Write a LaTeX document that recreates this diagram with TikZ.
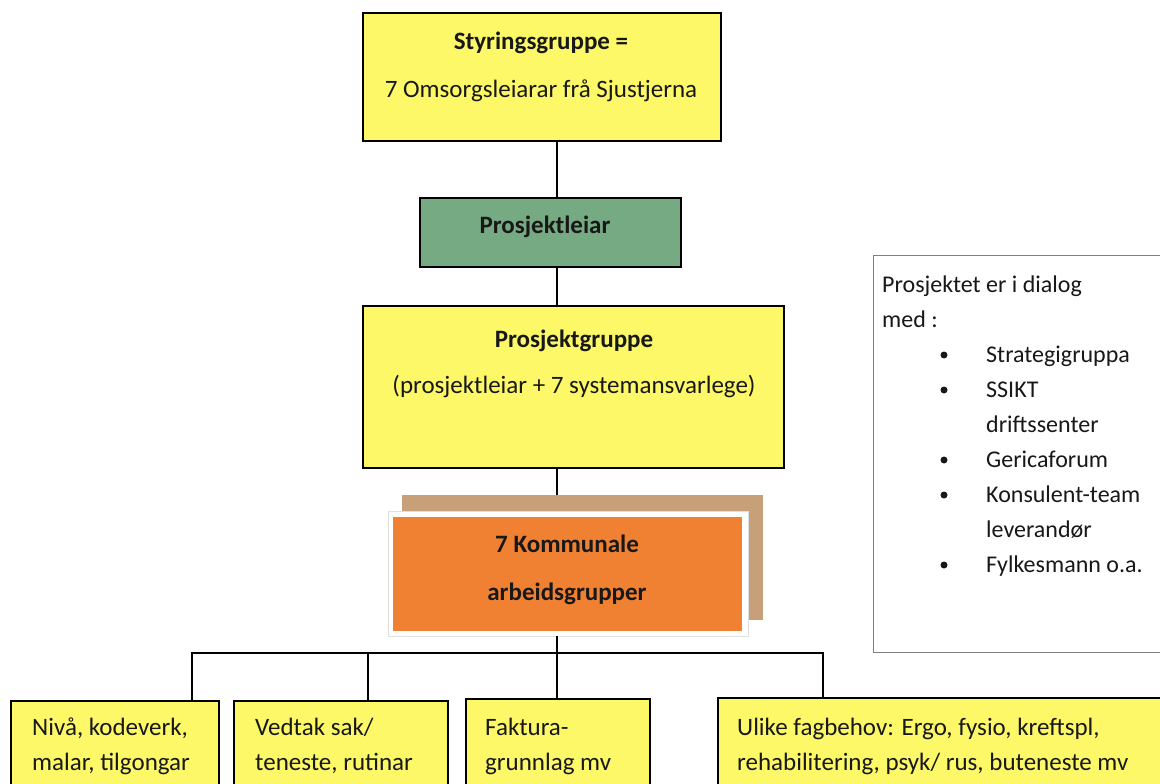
\documentclass[tikz,border=0pt]{standalone}
\usepackage{fontspec}
\setmainfont{Carlito}

\definecolor{boxyellow}{RGB}{252,248,104}
\definecolor{leiargreen}{RGB}{118,170,130}
\definecolor{komorange}{RGB}{240,128,50}
\definecolor{komshadow}{RGB}{199,160,122}
\definecolor{inkdark}{RGB}{24,24,24}

\begin{document}
\begin{tikzpicture}[x=1pt,y=-1pt]
	\tikzstyle{box_yellow} = [rectangle, draw=black, line width=2.2pt, fill=boxyellow, anchor=north west, inner sep=0pt]
	\tikzstyle{box_green} = [box_yellow, fill=leiargreen]
	\tikzstyle{box_side} = [rectangle, draw=gray, line width=1.3pt, fill=white, anchor=north west, inner sep=0pt]
	\tikzstyle{txt} = [inner sep=0pt, anchor=base, text=inkdark, font={\fontsize{25}{30}\selectfont}]
	\tikzstyle{txt_bold} = [txt, font={\fontsize{25}{30}\selectfont\bfseries}]
	\tikzstyle{txt_left} = [txt, anchor=base west]
	\tikzstyle{txt_side} = [txt, anchor=base west, font={\fontsize{24}{30}\selectfont}]
	\tikzstyle{bullet_dot} = [circle, fill=inkdark, inner sep=0pt, minimum size=7pt]
	\tikzstyle{link} = [draw=black, line width=2.2pt]

	\useasboundingbox (0,0) rectangle (1160,784);
	\clip (0,0) rectangle (1160,784);

%------------------------------------------------------------
	\node[box_yellow, minimum width=358, minimum height=128] (styr) at (362,12) {};
	\node[txt_bold] (styr_t1) at (541,50) {Styringsgruppe =};
	\node[txt] (styr_t2) at (541,97) {7 Omsorgsleiarar frå Sjustjerna};

	\node[box_green, minimum width=261, minimum height=69] (leiar) at (419,197) {};
	\node[txt_bold] (leiar_t1) at (545,233) {Prosjektleiar};

	\node[box_yellow, minimum width=421, minimum height=162] (gruppe) at (362,305) {};
	\node[txt_bold] (gruppe_t1) at (574,347) {Prosjektgruppe};
	\node[txt] (gruppe_t2) at (574,393) {(prosjektleiar + 7 systemansvarlege)};

%------------------------------------------------------------
	\coordinate (spine) at (557,0);
	\node[rectangle, fill=komshadow, anchor=north west, minimum width=361, minimum height=125] (kom_shadow) at (402,495) {};
	\draw[link] (gruppe.south -| spine) -- (kom_shadow.north -| spine) -- (kom_shadow.north -| spine) ++(0,16);
	\node[rectangle, fill=white, draw=gray!25, anchor=north west, minimum width=360, minimum height=125] (kom_frame) at (388,511) {};
	\node[rectangle, fill=komorange, anchor=north west, minimum width=349, minimum height=114] (kom) at (393,517) {};
	\node[txt_bold] (kom_t1) at (567,552) {7 Kommunale};
	\node[txt_bold] (kom_t2) at (567,600) {arbeidsgrupper};

	\draw[link] (styr.south -| spine) -- (leiar.north -| spine);
	\draw[link] (leiar.south -| spine) -- (gruppe.north -| spine);

%------------------------------------------------------------
	\node[box_side, minimum width=320, minimum height=397] (side) at (873,255) {};
	\node[txt_side] (side_t1) at (882,292) {Prosjektet er i dialog};
	\node[txt_side] (side_t2) at (882,327) {med :};
	\node[bullet_dot] (dot1) at (944,355) {};
	\node[txt_side] (side_t3) at (986,362) {Strategigruppa};
	\node[bullet_dot] (dot2) at (944,390) {};
	\node[txt_side] (side_t4) at (986,397) {SSIKT};
	\node[txt_side] (side_t5) at (986,432) {driftssenter};
	\node[bullet_dot] (dot3) at (944,460) {};
	\node[txt_side] (side_t6) at (986,467) {Gericaforum};
	\node[bullet_dot] (dot4) at (944,495) {};
	\node[txt_side] (side_t7) at (986,502) {Konsulent-team};
	\node[txt_side] (side_t8) at (986,537) {leverandør};
	\node[bullet_dot] (dot5) at (944,565) {};
	\node[txt_side] (side_t9) at (986,572) {Fylkesmann o.a.};

%------------------------------------------------------------
	\node[box_yellow, minimum width=208, minimum height=120] (arb1) at (10,700) {};
	\node[txt_left] (arb1_t1) at (32,735) {Nivå, kodeverk,};
	\node[txt_left] (arb1_t2) at (32,770) {malar, tilgongar};

	\node[box_yellow, minimum width=214, minimum height=120] (arb2) at (233,700) {};
	\node[txt_left] (arb2_t1) at (255,735) {Vedtak sak/};
	\node[txt_left] (arb2_t2) at (255,770) {teneste, rutinar};

	\node[box_yellow, minimum width=184, minimum height=120] (arb3) at (465,698) {};
	\node[txt_left] (arb3_t1) at (485,735) {Faktura-};
	\node[txt_left] (arb3_t2) at (485,770) {grunnlag mv};

	\node[box_yellow, minimum width=480, minimum height=120] (arb4) at (717,697) {};
	\node[txt_left] (arb4_t1) at (737,735) {Ulike fagbehov: Ergo, fysio, kreftspl,};
	\node[txt_left] (arb4_t2) at (737,770) {rehabilitering, psyk/ rus, buteneste mv};

%------------------------------------------------------------
	\coordinate (bus1) at (192,653);
	\coordinate (bus2) at (368,653);
	\coordinate (bus4) at (823,653);

	\draw[link] (kom_frame.south -| spine) -- (arb3.north -| spine);
	\draw[link] (arb1.north -| bus1) -- (bus1) -- (bus4) -- (arb4.north -| bus4);
	\draw[link] (bus2) -- (arb2.north -| bus2);

\end{tikzpicture}
\end{document}
